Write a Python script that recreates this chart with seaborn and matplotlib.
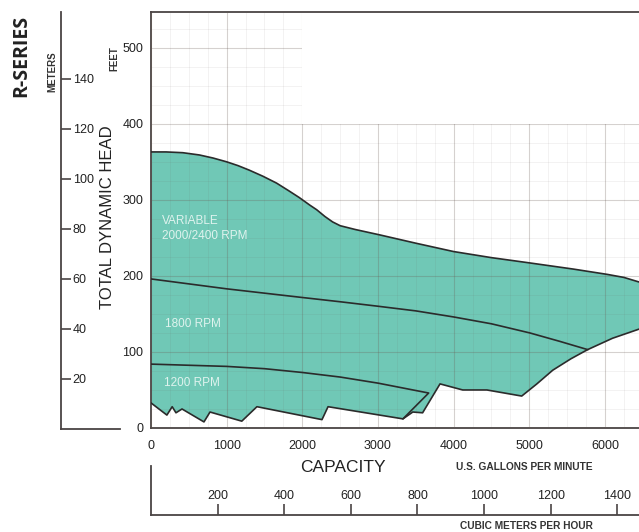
import numpy as np
import matplotlib
matplotlib.use('Agg')
import matplotlib.pyplot as plt
from matplotlib.patches import Polygon
import seaborn as sns

# curves (US gpm vs feet)
var_gpm = [0, 200, 420, 640, 820, 1000, 1150, 1300, 1480, 1660, 1820, 1960, 2100, 2190, 2300, 2400, 2500,
           2700, 3020, 3500, 4000, 4500, 5010, 5580, 6030, 6250, 6450]
var_ft = [363, 363, 362, 359, 355, 350, 345, 339, 331, 322, 312, 303, 293, 287, 278, 271, 266,
          261, 254, 243, 232, 224, 217, 209, 202, 198, 192]

rpm1800_gpm = [0, 1000, 1964, 2500, 3009, 3500, 4001, 4500, 5007, 5400, 5774]
rpm1800_ft = [196, 183, 172, 166, 160, 154, 146, 137, 125, 114, 103]

rpm1200_gpm = [0, 1000, 1500, 2000, 2500, 3000, 3670, 3330]
rpm1200_ft = [84, 81, 78, 73, 67, 59, 46, 12]

low_gpm = [0, 210, 280, 330, 410, 700, 780, 1200, 1400, 2260, 2340, 3330, 3460, 3590, 3820, 4120, 4440,
           4900, 5100, 5310, 5550, 5770, 6100, 6450]
low_ft = [33, 17, 28, 20, 25, 8, 21, 9, 28, 11, 28, 12, 21, 20, 58, 50, 50,
          42, 58, 76, 91, 103, 118, 130]

area_labels = ['VARIABLE\n2000/2400 RPM', '1800 RPM', '1200 RPM']
area_label_pos = [(150, 262), (190, 137), (170, 59)]

gpm_ticks = [0, 1000, 2000, 3000, 4000, 5000, 6000]
ft_ticks = [0, 100, 200, 300, 400, 500]
m_ticks = [20, 40, 60, 80, 100, 120, 140]
m3h_ticks = [200, 400, 600, 800, 1000, 1200, 1400]

XMAX, YMAX = 6450, 547

sns.set_style('white')
plt.rcParams['font.family'] = ['Liberation Sans', 'DejaVu Sans']

W, H = 639, 532
fig = plt.figure(figsize=(W / 100, H / 100), dpi=100)

def fx(px):
    return px / W

def fy(py):
    return 1 - py / H

ax = fig.add_axes([fx(151), fy(428), 1 - fx(151), (428 - 12) / H])
ax.set_xlim(0, XMAX)
ax.set_ylim(0, YMAX)

teal = '#70c8b6'
ink = '#2b2b2b'
axis_col = '#4a4444'
lab_col = '#222222'

# shaded operating range
poly_x = var_gpm + low_gpm[::-1]
poly_y = var_ft + low_ft[::-1]
ax.fill(poly_x, poly_y, color=teal, lw=0, zorder=2)

# grid, clipped to the L shaped area of the chart paper
clip = Polygon([(0, 0), (XMAX, 0), (XMAX, 400), (2000, 400), (2000, YMAX), (0, YMAX)],
               closed=True, transform=ax.transData)
gc = (0.42, 0.36, 0.33)
for xs, ys, a, lw in [(np.arange(0, XMAX, 250), np.arange(0, YMAX, 25), 0.09, 0.6),
                      (np.arange(0, XMAX, 1000), np.arange(0, YMAX, 100), 0.22, 0.8)]:
    v = ax.vlines(xs, 0, YMAX, colors=[gc], alpha=a, lw=lw, zorder=3)
    h = ax.hlines(ys, 0, XMAX, colors=[gc], alpha=a, lw=lw, zorder=3)
    v.set_clip_path(clip)
    h.set_clip_path(clip)

# outlines and speed curves
for xs, ys in [(var_gpm, var_ft), (low_gpm, low_ft), (rpm1800_gpm, rpm1800_ft), (rpm1200_gpm, rpm1200_ft)]:
    sns.lineplot(x=xs, y=ys, ax=ax, color=ink, lw=1.2, sort=False, estimator=None, zorder=4)

for txt, (x, y) in zip(area_labels, area_label_pos):
    ax.text(x, y, txt, color='#dff3ee', fontsize=8.5, va='center', ha='left',
            linespacing=1.3, zorder=5)

ax.set_xticks(gpm_ticks)
ax.set_yticks(ft_ticks)
ax.tick_params(axis='x', length=0, pad=8.5, labelsize=9, labelcolor=lab_col)
ax.tick_params(axis='y', length=0, pad=5.5, labelsize=9, labelcolor=lab_col)
for s in ['left', 'top', 'bottom']:
    ax.spines[s].set_color(axis_col)
    ax.spines[s].set_linewidth(1.3)
ax.spines['right'].set_visible(False)
ax.set_xlabel('')
ax.set_ylabel('')

# meters scale on the far left
ax_m = fig.add_axes([fx(61), fy(429), fx(120) - fx(61), (429 - 12) / H])
ax_m.set_ylim(0, YMAX / 3.2808)
ax_m.set_xlim(0, 1)
ax_m.patch.set_alpha(0)
ax_m.set_xticks([])
ax_m.set_yticks(m_ticks)
ax_m.tick_params(axis='y', left=True, direction='in', length=7, width=1.2, color=axis_col,
                 pad=-8.5, labelsize=9, labelcolor=lab_col)
plt.setp(ax_m.get_yticklabels(), ha='left')
for s in ['top', 'right']:
    ax_m.spines[s].set_visible(False)
for s in ['left', 'bottom']:
    ax_m.spines[s].set_color(axis_col)
    ax_m.spines[s].set_linewidth(1.3)

# cubic meters per hour scale at the bottom
ax_c = fig.add_axes([fx(151), fy(515), 1 - fx(151), (515 - 466) / H])
ax_c.set_xlim(0, XMAX / 4.4029)
ax_c.set_ylim(0, 1)
ax_c.patch.set_alpha(0)
ax_c.set_yticks([])
ax_c.set_xticks(m3h_ticks)
ax_c.tick_params(axis='x', bottom=True, direction='in', length=8, width=1.2, color=axis_col,
                 pad=-9.5, labelsize=9, labelcolor=lab_col)
plt.setp(ax_c.get_xticklabels(), va='bottom')
for s in ['top', 'right']:
    ax_c.spines[s].set_visible(False)
for s in ['left', 'bottom']:
    ax_c.spines[s].set_color(axis_col)
    ax_c.spines[s].set_linewidth(1.3)

# titles and unit labels
fig.text(fx(21), fy(56), 'R-SERIES', rotation=90, ha='center', va='center',
         fontsize=14, fontweight='bold', family=['Open Sans', 'DejaVu Sans'], color='#222222')
fig.text(fx(52), fy(72), 'METERS', rotation=90, ha='center', va='center',
         fontsize=7, fontweight='bold', color='#333333')
fig.text(fx(114), fy(59), 'FEET', rotation=90, ha='center', va='center',
         fontsize=7, fontweight='bold', color='#333333')
fig.text(fx(108), fy(217), 'TOTAL DYNAMIC HEAD', rotation=90, ha='center', va='center',
         fontsize=12, color='#222222')
fig.text(fx(343), fy(468), 'CAPACITY', ha='center', va='center', fontsize=12.5, color='#222222')
fig.text(fx(524), fy(467), 'U.S. GALLONS PER MINUTE', ha='center', va='center',
         fontsize=7.3, fontweight='bold', color='#333333')
fig.text(fx(526), fy(526), 'CUBIC METERS PER HOUR', ha='center', va='center',
         fontsize=7.3, fontweight='bold', color='#333333')

fig.savefig('out.png', dpi=100)
